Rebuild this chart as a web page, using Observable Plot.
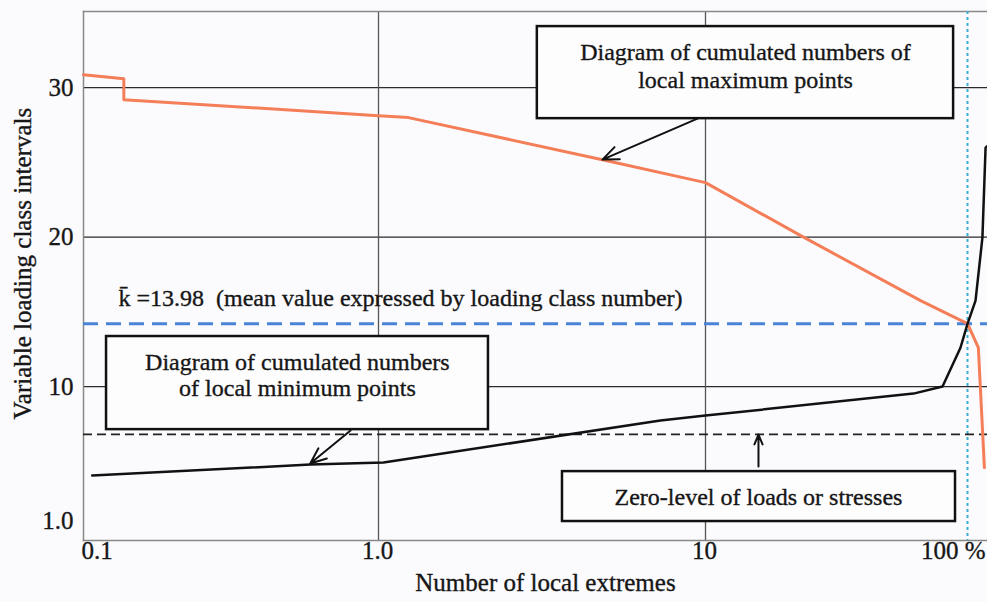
<!DOCTYPE html>
<html>
<head>
<meta charset="utf-8">
<script src="https://cdn.jsdelivr.net/npm/d3@7"></script>
<script src="https://cdn.jsdelivr.net/npm/@observablehq/plot@0.6"></script>
<style>
  html, body { margin: 0; padding: 0; background: #fbfbfd; }
  #chart svg { display: block; }
  #chart svg text { font-family: "Liberation Serif", "Times New Roman", serif; }
</style>
</head>
<body>
<div id="chart"></div>
<script>
// ---- data ----
// cumulated numbers of local maximum points (orange)
const maxX = [0.1, 0.137, 0.137, 1.0, 1.235, 4.84, 10, 23.1, 66.2, 100, 110, 116];
const maxY = [30.87, 30.6, 29.2, 28.13, 28.0, 25.18, 23.65, 20.1, 15.75, 14.21, 12.6, 4.58];
// cumulated numbers of local minimum points (black)
const minX = [0.107, 0.587, 1.036, 7.28, 10, 62.2, 80.3, 94.0, 100, 107.3, 114, 117.2, 119.2];
const minY = [4.05, 4.78, 4.92, 7.73, 8.06, 9.53, 10.0, 12.6, 14.2, 15.75, 19.97, 25.99, 26.1];
// reference levels
const meanLevel = 14.2;      // k̄ = 13.98 line as drawn
const zeroLevel = 6.8;       // zero-level of loads or stresses
const fullLevel = 100;       // 100 %
// ticks
const xTicks = [0.1, 1, 10, 100];
const xTickLabels = ["0.1", "1.0", "10", "100 %"];
const yTicks = [30, 20, 10, 1];
const yTickLabels = ["30", "20", "10", "1.0"];
const yGrid = [10, 20, 30];
const xGrid = [1, 10];
// annotation boxes (data units)
const boxes = [
  {x1: 3.06, x2: 88.5, y1: 27.93, y2: 34.09},
  {x1: 0.1197, x2: 2.169, y1: 7.12, y2: 13.35},
  {x1: 3.653, x2: 90.0, y1: 0.97, y2: 4.31}
];
const boxTexts = [
  {x: 14.21, y: 32.35, t: "Diagram of cumulated numbers of"},
  {x: 14.21, y: 30.48, t: "local maximum points"},
  {x: 0.531, y: 11.61, t: "Diagram of cumulated numbers"},
  {x: 0.531, y: 9.87, t: "of local minimum points"},
  {x: 15.93, y: 2.57, t: "Zero-level of loads or stresses"}
];
const arrows = [
  {x1: 9.45, y1: 27.93, x2: 4.84, y2: 25.19},
  {x1: 0.804, y1: 7.06, x2: 0.587, y2: 4.85},
  {x1: 15.93, y1: 4.65, x2: 15.93, y2: 6.79}
];
const meanText = {x: 0.1314, y: 15.89, t: "k\u0304 =13.98  (mean value expressed by loading class number)"};
const xTitle = {x: 3.24, t: "Number of local extremes"};
const yTitle = {y: 18.23, t: "Variable loading class intervals"};

const maxData = maxX.map((x, i) => ({x, y: maxY[i]}));
const minData = minX.map((x, i) => ({x, y: minY[i]}));
const xt = xTicks.map((v, i) => ({v, label: xTickLabels[i]}));
const yt = yTicks.map((v, i) => ({v, label: yTickLabels[i]}));

const font = '"Liberation Serif", "Times New Roman", serif';
const ink = "#161616";
const T = {fontFamily: font, fill: ink, stroke: ink, strokeWidth: 0.35};

const chart = Plot.plot({
  width: 987,
  height: 602,
  marginLeft: 83,
  marginRight: 0,
  marginTop: 11,
  marginBottom: 62,
  style: {background: "#fbfbfd", fontFamily: font, overflow: "visible"},
  x: {type: "log", domain: [0.1, 1, 10, 100, 119.2], range: [83, 378, 705, 967, 987], axis: null},
  y: {type: "linear", domain: [-0.3, 35.1], range: [540, 11], axis: null},
  marks: [
    // grid
    Plot.ruleY(yGrid, {stroke: "#2a2a2a", strokeWidth: 1.3}),
    Plot.ruleX(xGrid, {stroke: "#555", strokeWidth: 1.3}),
    // frame (left, top, bottom)
    Plot.frame({anchor: "left", stroke: "#888", strokeWidth: 1.5}),
    Plot.frame({anchor: "top", stroke: "#888", strokeWidth: 1.5}),
    Plot.frame({anchor: "bottom", stroke: "#888", strokeWidth: 1.5}),
    // reference lines
    Plot.ruleX([fullLevel], {stroke: "#3aaed0", strokeWidth: 2, strokeDasharray: "3,3"}),
    Plot.ruleY([zeroLevel], {stroke: "#222", strokeWidth: 1.8, strokeDasharray: "9,5"}),
    Plot.ruleY([meanLevel], {stroke: "#4a84d8", strokeWidth: 3, strokeDasharray: "15,8"}),
    // curves
    Plot.line(maxData, {x: "x", y: "y", stroke: "#f47e58", strokeWidth: 3}),
    Plot.line(minData, {x: "x", y: "y", stroke: "#111", strokeWidth: 2.5}),
    // annotation boxes
    Plot.rect(boxes, {x1: "x1", x2: "x2", y1: "y1", y2: "y2", fill: "#fdfdfe", stroke: "#111", strokeWidth: 2.5}),
    Plot.text(boxTexts, {x: "x", y: "y", text: "t", fontSize: 24, ...T}),
    Plot.arrow(arrows, {x1: "x1", y1: "y1", x2: "x2", y2: "y2", stroke: "#111", strokeWidth: 2, headLength: 13, headAngle: 45}),
    // mean label
    Plot.text([meanText], {x: "x", y: "y", text: "t", fontSize: 24, textAnchor: "start", ...T}),
    // tick labels
    Plot.text(xt.slice(0, 1), {x: "v", text: "label", frameAnchor: "bottom", dy: 18, dx: -2, textAnchor: "start", fontSize: 25, ...T}),
    Plot.text(xt.slice(1, 3), {x: "v", text: "label", frameAnchor: "bottom", dy: 18, dx: -1, textAnchor: "middle", fontSize: 25, ...T}),
    Plot.text(xt.slice(3), {x: "v", text: "label", frameAnchor: "bottom", dy: 18, dx: 18, textAnchor: "end", fontSize: 25, ...T}),
    Plot.text(yt, {y: "v", text: "label", frameAnchor: "left", dx: -10, textAnchor: "end", fontSize: 25, ...T}),
    // axis titles
    Plot.text([xTitle], {x: "x", text: "t", frameAnchor: "bottom", dy: 50, textAnchor: "middle", fontSize: 25, ...T}),
    Plot.text([yTitle], {y: "y", text: "t", frameAnchor: "left", dx: -61, rotate: -90, textAnchor: "middle", fontSize: 25, ...T})
  ]
});
document.getElementById("chart").appendChild(chart);
</script>
</body>
</html>
